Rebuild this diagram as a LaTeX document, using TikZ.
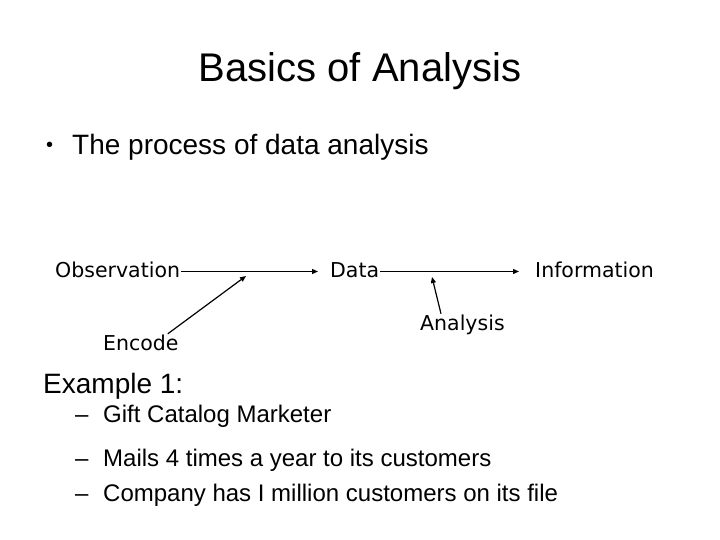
\documentclass[tikz,border=0pt]{standalone}
\usepackage{fontspec}
\setmainfont{Liberation Sans}
\newfontfamily\diagfont{DejaVu Sans}
\usepackage{tikz}
\usetikzlibrary{arrows.meta}
\tikzstyle{title} = [inner sep=0pt, anchor=base, font=\fontsize{40}{44}\selectfont]
\tikzstyle{mainitem} = [inner sep=0pt, anchor=base west, font=\fontsize{28}{32}\selectfont]
\tikzstyle{subitem} = [inner sep=0pt, anchor=base west, font=\fontsize{24}{28}\selectfont]
\tikzstyle{term} = [inner sep=1pt, anchor=base west, text height=15pt, text depth=4pt, font=\diagfont\fontsize{20.5}{24}\selectfont]
\tikzstyle{arrow} = [line width=1.2pt, -{Triangle[length=6pt,width=5pt]}]

\begin{document}
\begin{tikzpicture}[x=1pt, y=-1pt]
        \useasboundingbox (0,0) rectangle (720,540);

        % Textos de la diapositiva
        \node (title) [title] at (360,82) {Basics of Analysis};
        \node (bullet) [mainitem, font=\fontsize{20}{24}\selectfont] at (46,152) {\textbullet};
        \node (process) [mainitem] at (72,155) {The process of data analysis};
        \node (example) [mainitem] at (43,393) {Example 1:};
        \node (dash1) [subitem] at (75,422) {--};
        \node (gift) [subitem] at (103,422) {Gift Catalog Marketer};
        \node (dash2) [subitem] at (75,466) {--};
        \node (mails) [subitem] at (103,466) {Mails 4 times a year to its customers};
        \node (dash3) [subitem] at (75,501) {--};
        \node (company) [subitem] at (103,501) {Company has I million customers on its file};

        % Nodos del diagrama
        \node (obs) [term] at (54,277) {Observation};
        \node (data) [term] at (329,277) {Data};
        \node (info) [term] at (534,277) {Information};
        \node (encode) [term] at (102,350) {Encode};
        \node (analysis) [term] at (419,330) {Analysis};
        \coordinate (encTip) at (246,276);
        \coordinate (anaTip) at (432,277);

        % Conexiones entre nodos
        \draw [arrow, shorten >=11pt] (obs.east) -- (data.west);
        \draw [arrow, shorten >=15pt] (data.east) -- (info.west);
        \draw [arrow] ([xshift=-12pt]encode.north east) -- (encTip);
        \draw [arrow] ([xshift=22pt]analysis.north west) -- (anaTip);

    \end{tikzpicture}
\end{document}
